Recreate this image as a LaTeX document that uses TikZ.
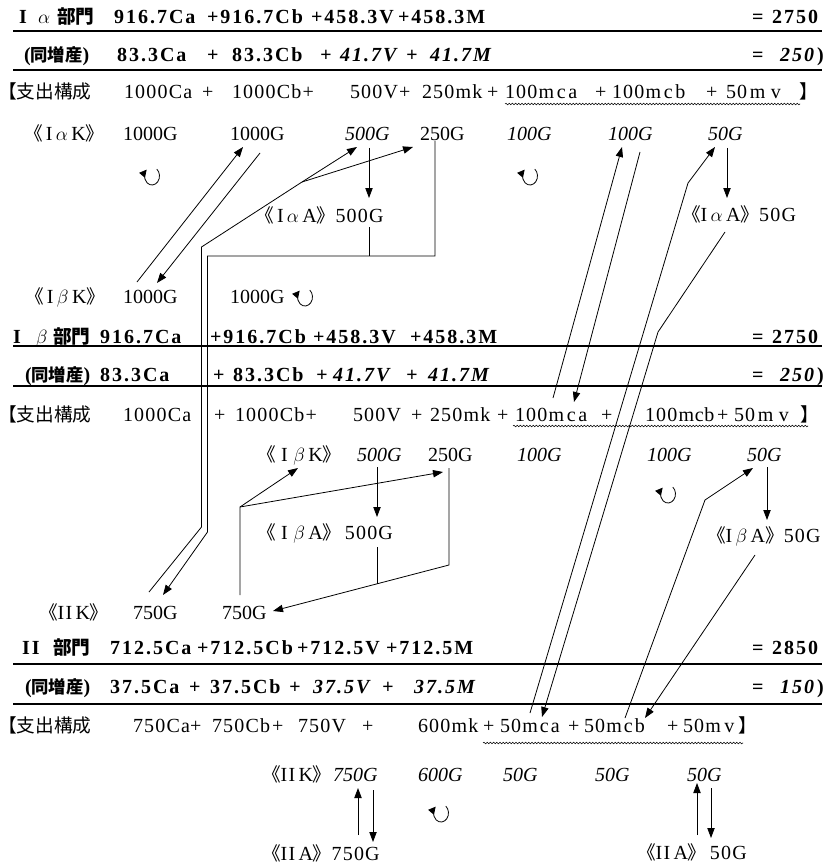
\documentclass[tikz,border=0pt]{standalone}
\usepackage{fontspec}
\setmainfont{Liberation Serif}
\newfontfamily\rmsp{Liberation Serif}[LetterSpace=6]
\newfontfamily\bfsp{Liberation Serif}[LetterSpace=10]
\newfontfamily\jp{Noto Sans CJK JP}
\usetikzlibrary{arrows.meta,decorations.pathmorphing}
\newcommand\J[1]{{\fontsize{14}{16}\selectfont\jp #1}}
\newcommand\Jb[1]{{\fontsize{14}{16}\selectfont\jp\bfseries #1}}
\newcommand\Jz[1]{{\fontsize{13}{15}\selectfont\jp\bfseries #1}}
\newcommand\mm[2]{m\kern#1 c\kern#1 #2}
\begin{document}
\begin{tikzpicture}[x=0.75pt,y=-0.75pt,
  t/.style={anchor=base west,inner sep=0pt,outer sep=0pt,font=\fontsize{15}{18}\selectfont\rmsp},
  tg/.style={t,font=\fontsize{15}{18}\selectfont\rmfamily},
  ti/.style={t,font=\fontsize{15}{18}\selectfont\rmfamily\itshape},
  tb/.style={t,font=\fontsize{15}{18}\selectfont\bfsp\bfseries},
  tbi/.style={t,font=\fontsize{15}{18}\selectfont\bfsp\bfseries\itshape},
  rule/.style={line width=1pt},
  ln/.style={line width=0.6pt},
  arr/.style={ln,-{Triangle[length=7.5pt,width=5.5pt]}},
  wavy/.style={line width=0.4pt,decorate,decoration={snake,amplitude=0.6pt,segment length=2.4pt}},
  cyc/.pic={\draw[line width=0.6pt,-{Triangle[length=5.5pt,width=5.5pt]}] (4.8,-6.9) arc[start angle=-50,end angle=225,x radius=7.5,y radius=9];}
]
\useasboundingbox (0,0) rectangle (835,863);

% ===== I alpha block =====
\node[tb] (a1n1) at (19,24) {I};
\node[t]  (a1n2) at (38,24) {$\alpha$};
\node[t]  (a1n3) at (57,24) {\Jb{部門}};
\node[tb] (a1t1) at (114,24) {916.7Ca};
\node[tb] (a1t2) at (207,24) {+916.7Cb};
\node[tb] (a1t3) at (311,24) {+458.3V};
\node[tb] (a1t4) at (398,24) {+458.3M};
\node[tb] (a1eq) at (752,24) {=};
\node[tb,anchor=base east] (a1v) at (818,24) {2750};
\draw[rule] (13,31) -- (822,31);

\node[tb]  (a2n)  at (24,62) {(\Jz{同増産})};
\node[tb]  (a2t1) at (117,62) {83.3Ca};
\node[tb]  (a2p1) at (207,62) {+};
\node[tb]  (a2t2) at (232,62) {83.3Cb};
\node[tbi] (a2p2) at (320,62) {+};
\node[tbi] (a2t3) at (340,62) {41.7V};
\node[tbi] (a2p3) at (406,62) {+};
\node[tbi] (a2t4) at (430,62) {41.7M};
\node[tb]  (a2eq) at (752,62) {=};
\node[tbi,anchor=base east] (a2v) at (814,62) {250};
\node[tb]  (a2r)  at (817,62) {)};
\draw[rule] (13,70) -- (822,70);

\node[t] (a3n)  at (-2,99) {\J{【支出構成}};
\node[t] (a3t1) at (124,99) {1000Ca};
\node[t] (a3p1) at (202,99) {+};
\node[t] (a3t2) at (232,99) {1000Cb+};
\node[t] (a3t3) at (350,99) {500V+};
\node[t] (a3t4) at (422,99) {250mk};
\node[t] (a3p4) at (487,99) {+};
\node[t] (a3t5) at (505,99) {100\mm{2pt}{a}};
\node[t] (a3p5) at (595,99) {+};
\node[t] (a3t6) at (612,99) {100\mm{2pt}{b}};
\node[t] (a3p6) at (706,99) {+};
\node[t] (a3t7) at (726,99) {50\kern2pt m\kern4pt v};
\node[t] (a3b)  at (799,99) {\J{】}};
\draw[wavy] (505,104) -- (800,104);

\node[t]  (akl) at (24,141) {\J{《}\,I\,$\alpha$\,K\J{》}};
\node[tg] (ak1) at (123,141) {1000G};
\node[tg] (ak2) at (230,141) {1000G};
\node[ti] (ak3) at (345,141) {500G};
\node[tg] (ak4) at (420,141) {250G};
\node[ti] (ak5) at (507,141) {100G};
\node[ti] (ak6) at (608,141) {100G};
\node[ti] (ak7) at (708,141) {50G};

\node[t] (aa1) at (255,222) {\J{《}\,I\,$\alpha$\,A\J{》}500G};
\node[t] (aa2) at (682,221) {\J{《}I\,$\alpha$\,A\J{》}50G};

\node[t]  (bkl0) at (25,303) {\J{《}\,I\,$\beta$\,K\J{》}};
\node[tg] (bk01) at (123,303) {1000G};
\node[tg] (bk02) at (230,303) {1000G};

% ===== I beta block =====
\node[tb] (b1n1) at (13,343) {I};
\node[t]  (b1n2) at (36,343) {$\beta$};
\node[t]  (b1n3) at (53,343) {\Jb{部門}};
\node[tb] (b1t1) at (100,343) {916.7Ca};
\node[tb] (b1t2) at (210,343) {+916.7Cb};
\node[tb] (b1t3) at (313,343) {+458.3V};
\node[tb] (b1t4) at (410,343) {+458.3M};
\node[tb] (b1eq) at (752,343) {=};
\node[tb,anchor=base east] (b1v) at (818,343) {2750};
\draw[rule] (13,346) -- (822,346);

\node[tb]  (b2n)  at (25,381) {(\Jz{同増産})};
\node[tb]  (b2t1) at (100,381) {83.3Ca};
\node[tb]  (b2p1) at (213,381) {+};
\node[tb]  (b2t2) at (233,381) {83.3Cb};
\node[tbi] (b2p2) at (316,381) {+};
\node[tbi] (b2t3) at (333,381) {41.7V};
\node[tbi] (b2p3) at (406,381) {+};
\node[tbi] (b2t4) at (428,381) {41.7M};
\node[tb]  (b2eq) at (752,381) {=};
\node[tbi,anchor=base east] (b2v) at (814,381) {250};
\node[tb]  (b2r)  at (817,381) {)};
\draw[rule] (13,386) -- (822,386);

\node[t] (b3n)  at (-2,421) {\J{【支出構成}};
\node[t] (b3t1) at (123,421) {1000Ca};
\node[t] (b3p1) at (214,421) {+};
\node[t] (b3t2) at (235,421) {1000Cb+};
\node[t] (b3t3) at (353,421) {500V};
\node[t] (b3p3) at (411,421) {+};
\node[t] (b3t4) at (430,421) {250mk};
\node[t] (b3p4) at (497,421) {+};
\node[t] (b3t5) at (515,421) {100\mm{2pt}{a}};
\node[t] (b3p5) at (601,421) {+};
\node[t] (b3t6) at (645,421) {100\mm{0.5pt}{b}};
\node[t] (b3p6) at (717,421) {+};
\node[t] (b3t7) at (734,421) {50\kern2pt m\kern4pt v};
\node[t] (b3b)  at (800,421) {\J{】}};
\draw[wavy] (513,426) -- (808,426);

\node[t]  (bkl) at (257,461) {\J{《}\;I\;$\beta$\,K\J{》}};
\node[ti] (bk1) at (357,461) {500G};
\node[tg] (bk2) at (428,461) {250G};
\node[ti] (bk3) at (517,461) {100G};
\node[ti] (bk4) at (647,461) {100G};
\node[ti] (bk5) at (747,461) {50G};

\node[t] (ba1) at (257,539) {\J{《}\;I\;$\beta$\,A\J{》}\,500G};
\node[t] (ba2) at (707,542) {\J{《}I\,$\beta$\,A\J{》}50G};

\node[t]  (ckl0) at (39,619) {\J{《}II\,K\J{》}};
\node[tg] (ck01) at (133,619) {750G};
\node[tg] (ck02) at (222,619) {750G};

% ===== II block =====
\node[tb] (c1n1) at (22,654) {II};
\node[t]  (c1n3) at (53,654) {\Jb{部門}};
\node[tb] (c1t1) at (110,654) {712.5Ca};
\node[tb] (c1t2) at (197,654) {+712.5Cb};
\node[tb] (c1t3) at (297,654) {+712.5V};
\node[tb] (c1t4) at (386,654) {+712.5M};
\node[tb] (c1eq) at (752,654) {=};
\node[tb,anchor=base east] (c1v) at (818,654) {2850};
\draw[rule] (13,664) -- (822,664);

\node[tb]  (c2n)  at (25,693) {(\Jz{同増産})};
\node[tb]  (c2t1) at (110,693) {37.5Ca};
\node[tb]  (c2p1) at (189,693) {+};
\node[tb]  (c2t2) at (210,693) {37.5Cb};
\node[tbi] (c2p2) at (289,693) {+};
\node[tbi] (c2t3) at (313,693) {37.5V};
\node[tbi] (c2p3) at (382,693) {+};
\node[tbi] (c2t4) at (414,693) {37.5M};
\node[tb]  (c2eq) at (752,693) {=};
\node[tbi,anchor=base east] (c2v) at (814,693) {150};
\node[tb]  (c2r)  at (817,693) {)};
\draw[rule] (13,704) -- (822,704);

\node[t] (c3n)  at (-2,732) {\J{【支出構成}};
\node[t] (c3t1) at (133,732) {750Ca};
\node[t] (c3p1) at (190,732) {+};
\node[t] (c3t2) at (212,732) {750Cb};
\node[t] (c3p2) at (272,732) {+};
\node[t] (c3t3) at (298,732) {750V};
\node[t] (c3p3) at (362,732) {+};
\node[t] (c3t4) at (418,732) {600mk};
\node[t] (c3p4) at (483,732) {+};
\node[t] (c3t5) at (500,732) {50\mm{1.5pt}{a}};
\node[t] (c3p5) at (568,732) {+};
\node[t] (c3t6) at (584,732) {50\mm{1.5pt}{b}};
\node[t] (c3p6) at (667,732) {+};
\node[t] (c3t7) at (683,732) {50m\kern2.5pt v};
\node[t] (c3b)  at (738,732) {\J{】}};
\draw[wavy] (483,743) -- (743,743);

\node[t]  (ckl) at (262,781) {\J{《}II\,K\J{》}};
\node[ti] (ck1) at (333,781) {750G};
\node[ti] (ck2) at (418,781) {600G};
\node[ti] (ck3) at (503,781) {50G};
\node[ti] (ck4) at (595,781) {50G};
\node[ti] (ck5) at (687,781) {50G};

\node[t] (ca1) at (262,860) {\J{《}II\,A\J{》}750G};
\node[t] (ca2) at (637,859) {\J{《}II\,A\J{》}\,50G};

% ===== cycle marks =====
\pic at (152,176) {cyc};
\pic at (530,176) {cyc};
\pic at (305,297) {cyc};
\pic at (668,494) {cyc};
\pic at (441,813) {cyc};

% ===== connectors =====
\coordinate (c1s) at (137,282); \coordinate (c1e) at (243,147);
\draw[arr] (c1s) -- (c1e);
\coordinate (c2s) at (260,153); \coordinate (c2e) at (157,283);
\draw[arr] (c2s) -- (c2e);

\coordinate (o0) at (149,592); \coordinate (o1) at (201.5,527);
\coordinate (o2) at (201.5,247); \coordinate (o3) at (302,182);
\coordinate (o4) at (357,147); \coordinate (o5) at (413,147);
\draw[arr] (o0) -- (o1) -- (o2) -- (o3) -- (o4);
\draw[arr] (o3) -- (o5);

\coordinate (i0) at (435,141); \coordinate (i1) at (435,256);
\coordinate (i2) at (207.5,256); \coordinate (i3) at (207.5,532);
\coordinate (i4) at (163,595);
\draw[arr] (i0) -- (i1) -- (i2) -- (i3) -- (i4);
\coordinate (j0) at (369,227); \coordinate (j1) at (369,256);
\draw[ln] (j0) -- (j1);

\coordinate (d1s) at (369,148); \coordinate (d1e) at (369,198);
\draw[arr] (d1s) -- (d1e);
\coordinate (d2s) at (727,148); \coordinate (d2e) at (727,198);
\draw[arr] (d2s) -- (d2e);

\coordinate (la0) at (553,398); \coordinate (la1) at (622,147);
\draw[arr] (la0) -- (la1);
\coordinate (lb0) at (640,152); \coordinate (lb1) at (574,402);
\draw[arr] (lb0) -- (lb1);
\coordinate (lc0) at (530,713); \coordinate (lc1) at (688,183); \coordinate (lc2) at (715,147);
\draw[arr] (lc0) -- (lc1) -- (lc2);
\coordinate (ld0) at (725,232); \coordinate (ld1) at (658,332); \coordinate (ld2) at (542,717);
\draw[arr] (ld0) -- (ld1) -- (ld2);

\coordinate (e0) at (240,595); \coordinate (e1) at (240,507);
\coordinate (e2) at (298,468); \coordinate (e3) at (443,472);
\draw[arr] (e0) -- (e1) -- (e2);
\draw[arr] (e1) -- (e3);
\coordinate (d3s) at (377,467); \coordinate (d3e) at (377,517);
\draw[arr] (d3s) -- (d3e);
\coordinate (f0) at (449,468); \coordinate (f1) at (449,565); \coordinate (f2) at (273,611);
\draw[arr] (f0) -- (f1) -- (f2);
\coordinate (g0) at (377,547); \coordinate (g1) at (377,584);
\draw[ln] (g0) -- (g1);
\coordinate (d4s) at (767,467); \coordinate (d4e) at (767,520);
\draw[arr] (d4s) -- (d4e);

\coordinate (le0) at (625,718); \coordinate (le1) at (705,500); \coordinate (le2) at (753,468);
\draw[arr] (le0) -- (le1) -- (le2);
\coordinate (lf0) at (755,555); \coordinate (lf1) at (645,718);
\draw[arr] (lf0) -- (lf1);

\coordinate (h1s) at (358,835); \coordinate (h1e) at (358,788);
\draw[arr] (h1s) -- (h1e);
\coordinate (h2s) at (373,790); \coordinate (h2e) at (373,842);
\draw[arr] (h2s) -- (h2e);
\coordinate (h3s) at (697,835); \coordinate (h3e) at (697,783);
\draw[arr] (h3s) -- (h3e);
\coordinate (h4s) at (711,788); \coordinate (h4e) at (711,838);
\draw[arr] (h4s) -- (h4e);
\end{tikzpicture}
\end{document}
